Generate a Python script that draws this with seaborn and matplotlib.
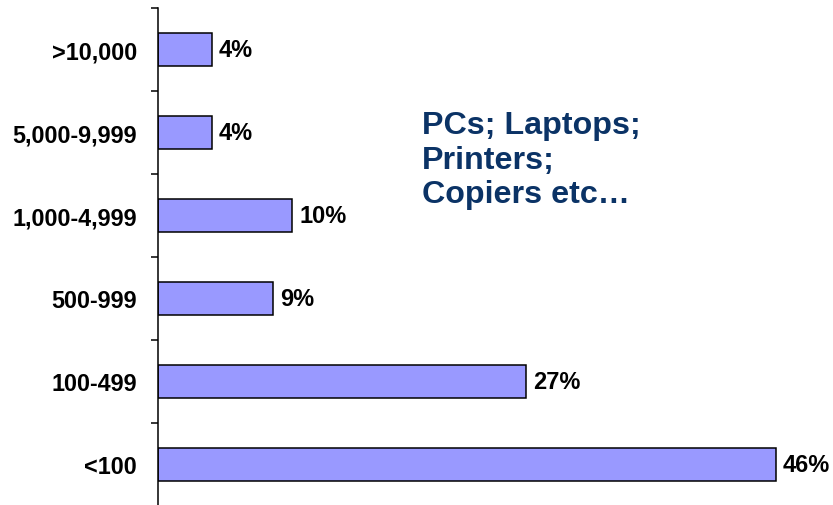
import numpy as np
import pandas as pd
import seaborn as sns
import matplotlib.pyplot as plt

categories = ['>10,000', '5,000-9,999', '1,000-4,999', '500-999', '100-499', '<100']
shares = [4.0, 4.0, 10.0, 8.6, 27.4, 46.0]
note_lines = ['PCs; Laptops;', 'Printers;', 'Copiers etc\u2026']

sns.set_style('white')
plt.rcParams['font.family'] = ['Liberation Sans', 'DejaVu Sans']

df = pd.DataFrame({'size': categories, 'share': shares})

fig = plt.figure(figsize=(8.33, 5.06), dpi=100)
ax = fig.add_axes([158 / 833, -1 / 506, 675 / 833, 498 / 506])
sns.barplot(data=df, x='share', y='size', orient='h', color='#9999FF',
            saturation=1, edgecolor='black', linewidth=1.1, width=0.4, ax=ax)

ax.set_xlim(0, 50.26)
ax.set_ylim(len(categories) - 0.5, -0.5)
ax.set_xlabel('')
ax.set_ylabel('')
ax.set_xticks([])

sns.despine(ax=ax, top=True, right=True, bottom=True, left=False)
ax.spines['left'].set_linewidth(1.1)
ax.spines['left'].set_color('black')

# tick marks between categories, labels at centres
ax.set_yticks(np.arange(len(categories) + 1) - 0.5, minor=True)
ax.tick_params(axis='y', which='minor', direction='out', length=5, width=1.1, color='black', left=True)
ax.tick_params(axis='y', which='major', length=0, pad=15, labelsize=16.8, colors='black')
for lbl in ax.get_yticklabels():
    lbl.set_fontweight('bold')

ax.bar_label(ax.containers[0], labels=[f'{v:.0f}%' for v in shares], padding=5,
             fontsize=17, fontweight='bold', color='black')

fig.text(422 / 833, 1 - 111 / 506, '\n'.join(note_lines), ha='left', va='top',
         fontsize=23.2, fontweight='bold', color='#0B3366', linespacing=1.2)

fig.savefig('out.png', dpi=100)
